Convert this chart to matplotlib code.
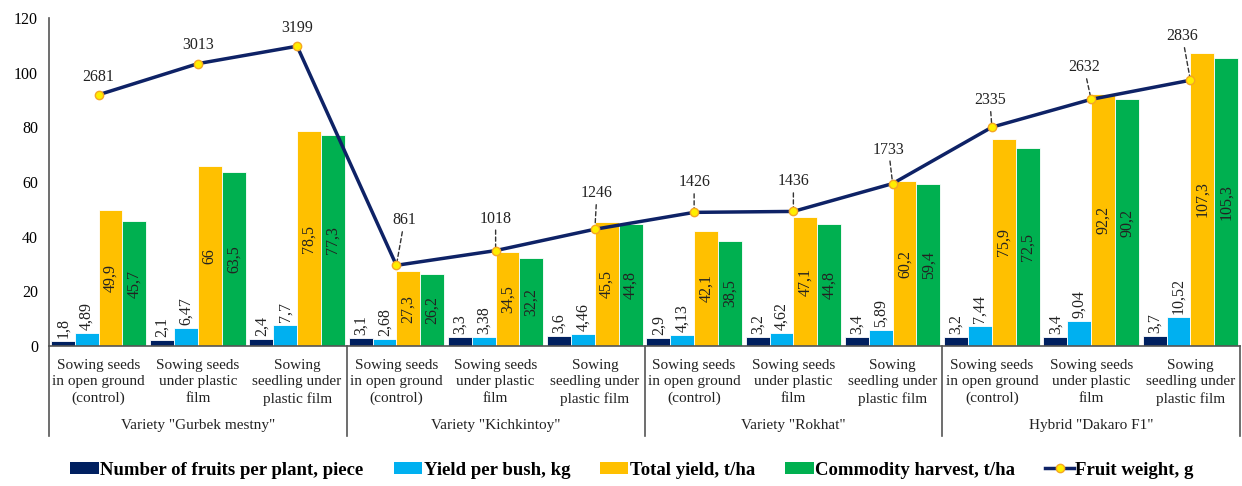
import matplotlib
matplotlib.use("Agg")
import matplotlib.pyplot as plt
from matplotlib.lines import Line2D
from matplotlib.patches import Patch

plt.rcParams['font.family'] = ['Liberation Serif', 'DejaVu Serif']

categories = [
    "Sowing seeds\nin open ground\n(control)",
    "Sowing seeds\nunder plastic\nfilm",
    "Sowing\nseedling under\nplastic film",
] * 4
groups = ['Variety "Gurbek mestny"', 'Variety "Kichkintoy"',
          'Variety "Rokhat"', 'Hybrid "Dakaro F1"']

fruits_per_plant = [1.8, 2.1, 2.4, 3.1, 3.3, 3.6, 2.9, 3.2, 3.4, 3.2, 3.4, 3.7]
yield_per_bush = [4.89, 6.47, 7.7, 2.68, 3.38, 4.46, 4.13, 4.62, 5.89, 7.44, 9.04, 10.52]
total_yield = [49.9, 66, 78.5, 27.3, 34.5, 45.5, 42.1, 47.1, 60.2, 75.9, 92.2, 107.3]
commodity = [45.7, 63.5, 77.3, 26.2, 32.2, 44.8, 38.5, 44.8, 59.4, 72.5, 90.2, 105.3]
fruit_weight = [2681, 3013, 3199, 861, 1018, 1246, 1426, 1436, 1733, 2335, 2632, 2836]

series_names = ["Number of fruits per plant, piece", "Yield per bush, kg",
                "Total yield, t/ha", "Commodity harvest, t/ha"]
line_name = "Fruit weight, g"
colors = ["#002060", "#00B0F0", "#FFC000", "#00B050"]

# label placement (pixel offsets of label centre from point) and leader flags
label_dx = [0, 0, 0, 8, 0, 2, 0, 0, -4, -2, -7, -8]
label_dy = [18, 19, 18, 45, 32, 36, 30, 30, 34, 27, 32, 44]
leaders = [False, False, False] + [True] * 9

def fmt(v):
    return f"{v:g}".replace('.', ',')

fig = plt.figure(figsize=(12.42, 4.86), dpi=100)
ax = fig.add_axes([49 / 1242, 1 - 346 / 486, (1240 - 49) / 1242, 328 / 486])

n = len(fruits_per_plant)
xs = list(range(n))
w = 0.24
all_series = [fruits_per_plant, yield_per_bush, total_yield, commodity]
for j, (vals, c) in enumerate(zip(all_series, colors)):
    pos = [x + (j - 1.5) * w for x in xs]
    ax.bar(pos, vals, width=w, color=c, edgecolor='white', linewidth=0.6, zorder=2)
    for p, v in zip(pos, vals):
        if j < 2:
            ax.annotate(fmt(v), xy=(p, v), xytext=(0, 3), textcoords='offset pixels',
                        rotation=90, ha='center', va='bottom', fontsize=11.5, color='#222222')
        else:
            ax.text(p, v / 2, fmt(v), rotation=90, ha='center', va='center',
                    fontsize=11.5, color='#222222', zorder=3)

ax.set_xlim(-0.5, n - 0.5)
ax.set_ylim(0, 120)
ax.set_yticks(range(0, 121, 20))
ax.tick_params(axis='y', length=0, pad=8, labelsize=11.5)
ax.tick_params(axis='x', length=0, pad=9, labelsize=11)
ax.set_xticks(xs)
ax.set_xticklabels(categories, linespacing=1.35, color='#222222')
for s in ['top', 'right']:
    ax.spines[s].set_visible(False)
ax.spines['left'].set_color('#555555')
ax.spines['bottom'].set_color('#555555')
ax.spines['left'].set_linewidth(1.2)
ax.spines['bottom'].set_linewidth(1.2)

# group separators and labels
trans = ax.get_xaxis_transform()
ybot = -(436 - 346) / 328
for b in [-0.5, 2.5, 5.5, 8.5, 11.5]:
    ax.plot([b, b], [0, ybot], transform=trans, color='#555555', lw=1.2, clip_on=False)
for g, name in enumerate(groups):
    ax.text(g * 3 + 1, -(425 - 346) / 328, name, transform=trans, ha='center',
            va='center', fontsize=11, color='#222222')

# fruit weight line on hidden secondary axis
ax2 = ax.twinx()
ax2.set_ylim(0, 3500)
ax2.axis('off')
ax2.plot(xs, fruit_weight, color='#0E2266', lw=2.5, marker='o', markersize=6,
         markerfacecolor='#FFEE00', markeredgecolor='#F5A623', markeredgewidth=1,
         zorder=4)
for x, v, dx, dy, ld in zip(xs, fruit_weight, label_dx, label_dy, leaders):
    kw = dict(textcoords='offset pixels', ha='center', va='center',
              fontsize=11.5, color='#222222')
    if ld:
        kw['arrowprops'] = dict(arrowstyle='-', linestyle=(0, (3, 2)), color='#333333',
                                lw=1, shrinkA=0.5, shrinkB=2.5)
    ax2.annotate(str(v), xy=(x, v), xytext=(dx, dy), **kw)

handles = [Patch(facecolor=c, edgecolor='none') for c in colors]
handles.append(Line2D([0], [0], color='#0E2266', lw=2.5, marker='o', markersize=6,
                      markerfacecolor='#FFEE00', markeredgecolor='#F5A623'))
fig.legend(handles, series_names + [line_name], loc='center', ncol=5,
           bbox_to_anchor=(0.509, 1 - 470 / 486), frameon=False,
           prop={'weight': 'bold', 'size': 13.5}, handlelength=1.5, handleheight=0.55,
           handletextpad=0.1, columnspacing=1.6)

fig.savefig("out.png", dpi=100)
